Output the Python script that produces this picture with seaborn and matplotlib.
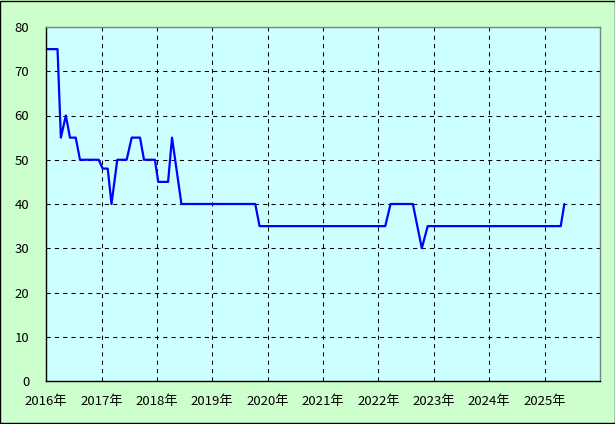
import pandas as pd
import matplotlib
matplotlib.use("Agg")
import matplotlib.pyplot as plt
import matplotlib.dates as mdates
import seaborn as sns

# values
dates = ["2016-01-10", "2016-03-17", "2016-04-08", "2016-05-11", "2016-06-07",
         "2016-07-15", "2016-08-12", "2016-12-13", "2017-01-09", "2017-02-11",
         "2017-03-08", "2017-04-15", "2017-06-16", "2017-07-19", "2017-09-12",
         "2017-10-08", "2017-12-19", "2018-01-10", "2018-03-16", "2018-04-11",
         "2018-06-12", "2019-10-12", "2019-11-09", "2022-02-15", "2022-03-22",
         "2022-08-16", "2022-10-14", "2022-11-22", "2025-04-17", "2025-05-11"]
values = [75, 75, 55, 60, 55,
          55, 50, 50, 48, 48,
          40, 50, 50, 55, 55,
          50, 50, 45, 45, 55,
          40, 40, 35, 35, 40,
          40, 30, 35, 35, 40]
years = list(range(2016, 2026))
year_labels = ["{}年".format(y) for y in years]
y_ticks = [0, 10, 20, 30, 40, 50, 60, 70, 80]

df = pd.DataFrame({"date": pd.to_datetime(dates), "value": values})

sns.set_style("white")
plt.rcParams['font.family'] = ['Noto Sans CJK JP', 'DejaVu Sans']

fig = plt.figure(figsize=(6.15, 4.24), dpi=100, facecolor="#CCFFCC")
ax = fig.add_axes([46 / 615, 43 / 424, 554 / 615, 354 / 424])
ax.set_facecolor("#CCFFFF")

sns.lineplot(data=df, x="date", y="value", ax=ax, color="#0000FF", linewidth=1.6)

ax.set_xlim(pd.Timestamp("2016-01-01"), pd.Timestamp("2026-01-01"))
ax.set_ylim(0, 80)
ax.set_xticks([pd.Timestamp("{}-01-01".format(y)) for y in years])
ax.set_xticklabels(year_labels)
ax.set_yticks(y_ticks)
ax.set_xlabel("")
ax.set_ylabel("")

ax.grid(True, color="black", linestyle=(0, (4, 4)), linewidth=0.75)
ax.tick_params(axis="both", direction="in", length=3, labelsize=9.5, colors="black")
ax.tick_params(axis="y", pad=12)
ax.tick_params(axis="x", pad=10)

for side in ["left", "bottom"]:
    ax.spines[side].set_color("black")
    ax.spines[side].set_linewidth(1)
for side in ["top", "right"]:
    ax.spines[side].set_color("#808080")
    ax.spines[side].set_linewidth(1)

# outer border of the picture
fig.patches.append(plt.Rectangle((0.0008, 0.0012), 0.9984, 0.9976, transform=fig.transFigure,
                                 fill=False, edgecolor="black", linewidth=1))

plt.savefig("out.png", dpi=100, facecolor=fig.get_facecolor())
